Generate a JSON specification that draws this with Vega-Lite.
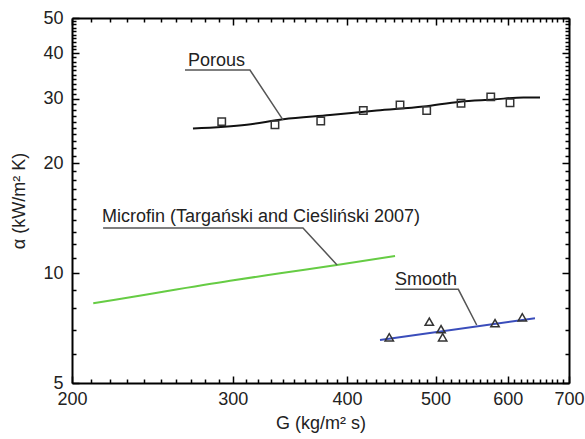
{
  "$schema": "https://vega.github.io/schema/vega-lite/v6.json",
  "width": 497,
  "height": 365,
  "autosize": {"type": "none"},
  "padding": {"left": 72, "top": 18, "right": 16, "bottom": 56},
  "background": "white",
  "config": {
    "view": {"stroke": null},
    "font": "Liberation Sans",
    "axis": {
      "grid": false,
      "ticks": true,
      "domainColor": "black",
      "domainWidth": 2,
      "labelColor": "#222",
      "labelFontSize": 18,
      "labelFont": "Liberation Sans",
      "titleFont": "Liberation Sans",
      "titleFontSize": 18,
      "titleFontWeight": "normal",
      "titleColor": "#222",
      "labelOverlap": false,
      "labelBound": false,
      "labelFlush": false
    }
  },
  "datasets": {
    "porousPts": [
      {"G": 291.7, "a": 26.0}, {"G": 333.6, "a": 25.5}, {"G": 374.4, "a": 26.1},
      {"G": 416.8, "a": 27.9}, {"G": 457.2, "a": 28.9}, {"G": 489.0, "a": 27.9},
      {"G": 533.2, "a": 29.2}, {"G": 574.7, "a": 30.4}, {"G": 603.3, "a": 29.3}
    ],
    "smoothPts": [
      {"G": 445.0, "a": 6.67}, {"G": 492.2, "a": 7.36}, {"G": 507.0, "a": 7.02},
      {"G": 509.1, "a": 6.67}, {"G": 580.9, "a": 7.29}, {"G": 622.3, "a": 7.57}
    ],
    "curves": [
      {"s": "Porous", "G": 271.3, "a": 24.9},
      {"s": "Porous", "G": 310.7, "a": 25.5},
      {"s": "Porous", "G": 340.7, "a": 26.4},
      {"s": "Porous", "G": 383.2, "a": 27.1},
      {"s": "Porous", "G": 431.1, "a": 27.9},
      {"s": "Porous", "G": 484.9, "a": 28.6},
      {"s": "Porous", "G": 531.8, "a": 29.5},
      {"s": "Porous", "G": 578.4, "a": 29.9},
      {"s": "Porous", "G": 623.9, "a": 30.3},
      {"s": "Porous", "G": 650.7, "a": 30.3},
      {"s": "Microfin", "G": 211.0, "a": 8.27},
      {"s": "Microfin", "G": 233.4, "a": 8.62},
      {"s": "Microfin", "G": 297.9, "a": 9.53},
      {"s": "Microfin", "G": 337.9, "a": 9.99},
      {"s": "Microfin", "G": 389.8, "a": 10.53},
      {"s": "Microfin", "G": 451.5, "a": 11.14},
      {"s": "Smooth", "G": 434.7, "a": 6.56},
      {"s": "Smooth", "G": 642.5, "a": 7.52}
    ],
    "leaders": [
      {"s": "Porous", "o": 1, "G": 265.9, "a": 36.0},
      {"s": "Porous", "o": 2, "G": 313.2, "a": 36.0},
      {"s": "Porous", "o": 3, "G": 340.4, "a": 26.3},
      {"s": "Microfin", "o": 1, "G": 216.3, "a": 13.3},
      {"s": "Microfin", "o": 2, "G": 358.0, "a": 13.3},
      {"s": "Microfin", "o": 3, "G": 390.1, "a": 10.53},
      {"s": "Smooth", "o": 1, "G": 451.5, "a": 9.03},
      {"s": "Smooth", "o": 2, "G": 529.6, "a": 9.03},
      {"s": "Smooth", "o": 3, "G": 554.7, "a": 7.21}
    ],
    "labels": [
      {"t": "Porous", "G": 267.9, "a": 36.9},
      {"t": "Microfin (Targański and Cieśliński 2007)", "G": 215.7, "a": 13.8},
      {"t": "Smooth", "G": 451.5, "a": 9.28}
    ]
  },
  "layer": [
    {
      "data": {"name": "labels"},
      "mark": {"type": "text", "align": "left", "baseline": "alphabetic", "fontSize": 18, "color": "#222222"},
      "encoding": {
        "text": {"field": "t"},
        "x": {
          "field": "G", "type": "quantitative",
          "scale": {"type": "log", "domain": [200, 700], "nice": false, "zero": false},
          "axis": {
            "orient": "bottom",
            "domain": true,
            "ticks": false,
            "labels": true,
            "title": "G (kg/m² s)",
            "titlePadding": 6,
            "values": [200, 300, 400, 500, 600, 700],
            "labelExpr": "format(datum.value, 'd')",
            "labelPadding": 7
          }
        },
        "y": {
          "field": "a", "type": "quantitative",
          "scale": {"type": "log", "domain": [5, 50], "nice": false, "zero": false},
          "axis": {
            "orient": "left",
            "domain": true,
            "ticks": false,
            "labels": true,
            "title": "α (kW/m² K)",
            "titlePadding": 14,
            "values": [5, 10, 20, 30, 40, 50],
            "labelExpr": "format(datum.value, 'd')",
            "labelPadding": 9
          }
        }
      }
    },
    {
      "data": {"name": "curves"},
      "mark": {"type": "line", "strokeWidth": 2, "interpolate": "monotone"},
      "encoding": {
        "detail": {"field": "s"},
        "color": {
          "field": "s", "type": "nominal", "legend": null,
          "scale": {"domain": ["Porous", "Microfin", "Smooth"], "range": ["#111111", "#66cc44", "#3a4dbb"]}
        },
        "x": {
          "field": "G", "type": "quantitative",
          "scale": {"type": "log", "domain": [200, 700], "nice": false, "zero": false},
          "axis": {"orient": "top", "offset": -365, "domain": false, "labels": true, "labelExpr": "''", "title": null, "ticks": true, "tickColor": "black", "tickWidth": 1.5, "tickSize": 7, "values": [200, 300, 400, 500, 600, 700]}
        },
        "y": {
          "field": "a", "type": "quantitative",
          "scale": {"type": "log", "domain": [5, 50], "nice": false, "zero": false},
          "axis": {"orient": "right", "offset": -497, "domain": false, "labels": true, "labelExpr": "''", "title": null, "ticks": true, "tickColor": "black", "tickWidth": 1.5, "tickSize": 7, "values": [5, 10, 20, 30, 40, 50]}
        }
      }
    },
    {
      "data": {"name": "leaders"},
      "mark": {"type": "line", "color": "#555555", "strokeWidth": 1.5},
      "encoding": {
        "detail": {"field": "s"},
        "order": {"field": "o"},
        "x": {
          "field": "G", "type": "quantitative",
          "scale": {"type": "log", "domain": [200, 700], "nice": false, "zero": false},
          "axis": {"orient": "top", "offset": -365, "domain": false, "labels": true, "labelExpr": "''", "title": null, "ticks": true, "tickColor": "black", "tickWidth": 1.5, "tickSize": 4,
            "values": [210,220,230,240,250,260,270,280,290,310,320,330,340,350,360,370,380,390,410,420,430,440,450,460,470,480,490,510,520,530,540,550,560,570,580,590,610,620,630,640,650,660,670,680,690]}
        },
        "y": {
          "field": "a", "type": "quantitative",
          "scale": {"type": "log", "domain": [5, 50], "nice": false, "zero": false},
          "axis": {"orient": "right", "offset": -497, "domain": false, "labels": true, "labelExpr": "''", "title": null, "ticks": true, "tickColor": "black", "tickWidth": 1.5, "tickSize": 4,
            "values": [6,7,8,9,11,12,13,14,15,16,17,18,19,21,22,23,24,25,26,27,28,29,31,32,33,34,35,36,37,38,39,41,42,43,44,45,46,47,48,49]}
        }
      }
    },
    {
      "data": {"name": "porousPts"},
      "mark": {"type": "point", "shape": "square", "filled": false, "size": 55, "stroke": "#333333", "strokeWidth": 1.5, "opacity": 1},
      "encoding": {
        "x": {
          "field": "G", "type": "quantitative",
          "scale": {"type": "log", "domain": [200, 700], "nice": false, "zero": false},
          "axis": {"orient": "bottom", "offset": -365, "domain": true, "labels": true, "labelExpr": "''", "title": null, "ticks": true, "tickColor": "black", "tickWidth": 1.5, "tickSize": 7, "values": [200, 300, 400, 500, 600, 700]}
        },
        "y": {
          "field": "a", "type": "quantitative",
          "scale": {"type": "log", "domain": [5, 50], "nice": false, "zero": false},
          "axis": {"orient": "left", "offset": -497, "domain": true, "labels": true, "labelExpr": "''", "title": null, "ticks": true, "tickColor": "black", "tickWidth": 1.5, "tickSize": 7, "values": [5, 10, 20, 30, 40, 50]}
        }
      }
    },
    {
      "data": {"name": "smoothPts"},
      "mark": {"type": "point", "shape": "triangle-up", "filled": false, "size": 70, "stroke": "#333333", "strokeWidth": 1.5, "opacity": 1},
      "encoding": {
        "x": {
          "field": "G", "type": "quantitative",
          "scale": {"type": "log", "domain": [200, 700], "nice": false, "zero": false},
          "axis": {"orient": "bottom", "offset": -365, "domain": false, "labels": true, "labelExpr": "''", "title": null, "ticks": true, "tickColor": "black", "tickWidth": 1.5, "tickSize": 4,
            "values": [210,220,230,240,250,260,270,280,290,310,320,330,340,350,360,370,380,390,410,420,430,440,450,460,470,480,490,510,520,530,540,550,560,570,580,590,610,620,630,640,650,660,670,680,690]}
        },
        "y": {
          "field": "a", "type": "quantitative",
          "scale": {"type": "log", "domain": [5, 50], "nice": false, "zero": false},
          "axis": {"orient": "left", "offset": -497, "domain": false, "labels": true, "labelExpr": "''", "title": null, "ticks": true, "tickColor": "black", "tickWidth": 1.5, "tickSize": 4,
            "values": [6,7,8,9,11,12,13,14,15,16,17,18,19,21,22,23,24,25,26,27,28,29,31,32,33,34,35,36,37,38,39,41,42,43,44,45,46,47,48,49]}
        }
      }
    }
  ],
  "resolve": {
    "scale": {"x": "independent", "y": "independent", "color": "independent"},
    "axis": {"x": "independent", "y": "independent"}
  }
}
